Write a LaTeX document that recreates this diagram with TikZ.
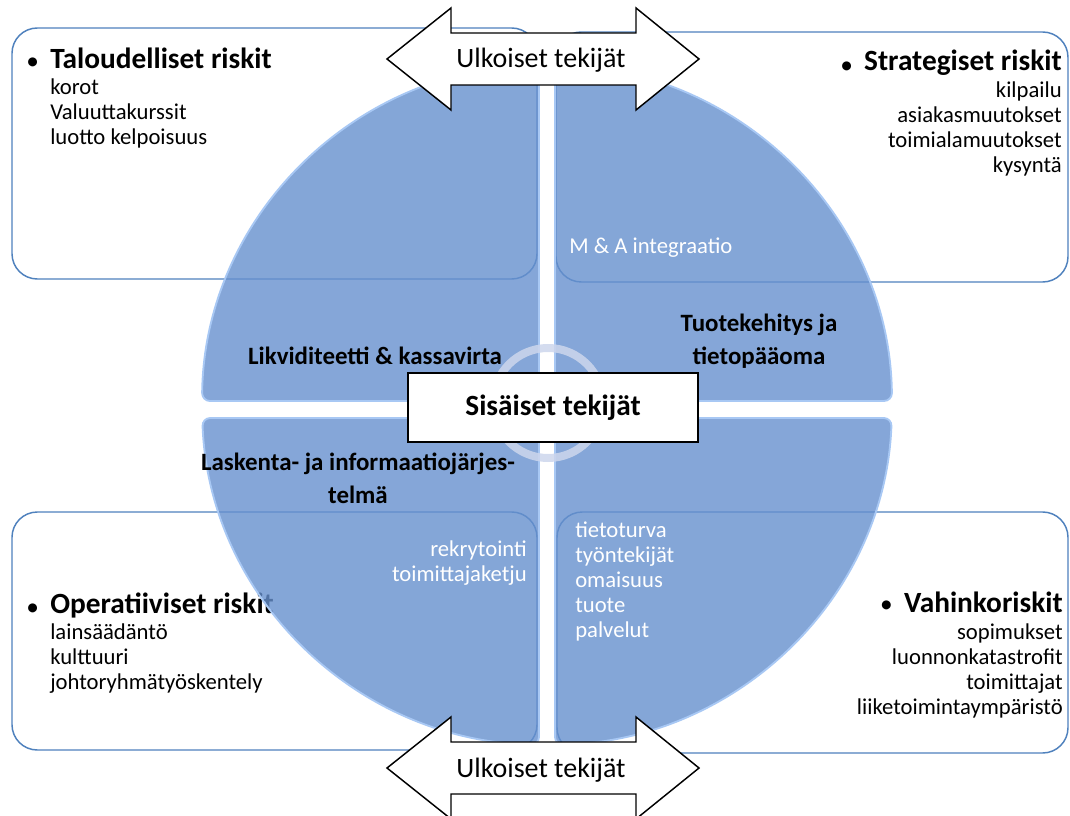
\documentclass[tikz,border=0pt]{standalone}
\usepackage{fontspec}
\setmainfont{Carlito}
\usetikzlibrary{positioning}

\definecolor{kehys}{RGB}{79,129,189}
\definecolor{sektori}{RGB}{102,144,206}
\definecolor{sektorireuna}{RGB}{168,200,244}
\definecolor{rengas}{RGB}{205,214,236}

\begin{document}
\begin{tikzpicture}[x=0.75pt, y=-0.75pt,
        laatikko/.style={draw=kehys, line width=1.1pt, fill=white, rounded corners=19pt},
        sektoripala/.style={fill=sektori, fill opacity=0.8, draw=sektorireuna, line width=1.4pt, rounded corners=6pt},
        otsikko/.style={font=\fontsize{22}{26}\selectfont\bfseries, inner sep=0pt},
        luoti/.style={font=\fontsize{19}{22}\selectfont, inner sep=0pt, yshift=-3.5pt},
        luettelo/.style={font=\fontsize{17}{18.75}\selectfont, inner sep=0pt},
        valkoinen/.style={luettelo, text=white},
        tekija/.style={font=\fontsize{18.7}{24.75}\selectfont\bfseries, inner sep=0pt, align=center},
        nuoli/.style={draw=black, line width=1.1pt, fill=white, miter limit=20},
    ]
    \useasboundingbox (0,0) rectangle (1070,816);

    % riskilaatikot nurkissa
    \draw[laatikko] (12,28) rectangle (537,279);
    \draw[laatikko] (556,32) rectangle (1068,282);
    \draw[laatikko] (12,512) rectangle (537,750);
    \draw[laatikko] (557,512) rectangle (1068,753);

    % otsikot ja luettelot (base = viimeisen rivin perusviiva)
    \node (talot) [otsikko, anchor=base west] at (50,69) {Taloudelliset riskit};
    \node (talb) [luoti, left=8pt of talot] {\textbullet};
    \node (talol) [luettelo, align=left, anchor=base west] at (50,145)
        {korot\\Valuuttakurssit\\luotto kelpoisuus};

    \node (strot) [otsikko, anchor=base east] at (1062,71) {Strategiset riskit};
    \node (strb) [luoti, left=8pt of strot] {\textbullet};
    \node (strol) [luettelo, align=right, anchor=base east] at (1062,173)
        {kilpailu\\asiakasmuutokset\\toimialamuutokset\\kysyntä};

    \node (opet) [otsikko, anchor=base west] at (50,613) {Operatiiviset riskit};
    \node (opeb) [luoti, left=8pt of opet] {\textbullet};
    \node (opel) [luettelo, align=left, anchor=base west] at (50,689)
        {lainsäädäntö\\kulttuuri\\johtoryhmätyöskentely};

    \node (vaht) [otsikko, anchor=base east] at (1063,612) {Vahinkoriskit};
    \node (vahb) [luoti, left=8pt of vaht] {\textbullet};
    \node (vahl) [luettelo, align=right, anchor=base east] at (1063,714)
        {sopimukset\\luonnonkatastrofit\\toimittajat\\liiketoimintaympäristö};

    % ympyrän neljännekset
    \path[sektoripala] (539,401) -- (539,65.1)
        arc[start angle=268.67, end angle=180.67, x radius=345, y radius=340] -- cycle;
    \path[sektoripala] (555,401) -- (891.98,401)
        arc[start angle=359.33, end angle=271.33, x radius=345, y radius=340] -- cycle;
    \path[sektoripala] (555,418) -- (555,744.9)
        arc[start angle=88.67, end angle=2.19, x radius=345, y radius=340] -- cycle;
    \path[sektoripala] (539,418) -- (202.25,418)
        arc[start angle=177.81, end angle=91.33, x radius=345, y radius=340] -- cycle;

    \node (mja) [valkoinen, anchor=base west] at (569,254) {M \& A integraatio};
    \node (rekr) [valkoinen, align=right, anchor=base east] at (527,581) {rekrytointi\\toimittajaketju};
    \node (tiet) [valkoinen, align=left, anchor=base west] at (575,637)
        {tietoturva\\työntekijät\\omaisuus\\tuote\\palvelut};

    \node (likv) [tekija] at (375,356) {Likviditeetti \& kassavirta};
    \node (tuot) [tekija] at (759,341) {Tuotekehitys ja\\tietopääoma};
    \node (lask) [tekija] at (358,478) {Laskenta- ja informaatiojärjes-\\telmä};

    % sisäiset tekijät keskellä
    \draw[draw=rengas, line width=6pt, draw opacity=0.85] (548,403) circle[radius=55];
    \node (sisa) [draw, line width=1.2pt, fill=white, minimum width=217.5pt, minimum height=51.75pt,
        font=\fontsize{22}{26}\selectfont\bfseries] at (553,407.5) {Sisäiset tekijät};

    % ulkoiset tekijät ylhäällä ja alhaalla
    \foreach \ny/\nimi in {59/ylanuoli, 768/alanuoli}{
        \draw[nuoli] (387,\ny) -- (451,\ny-51) -- (451,\ny-26) -- (636,\ny-26) -- (636,\ny-51)
            -- (699,\ny) -- (636,\ny+51) -- (636,\ny+26) -- (451,\ny+26) -- (451,\ny+51) -- cycle;
        \node (\nimi) [font=\fontsize{21}{24}\selectfont, inner sep=0pt, anchor=base] at (541,\ny+9) {Ulkoiset tekijät};
    }
\end{tikzpicture}
\end{document}
